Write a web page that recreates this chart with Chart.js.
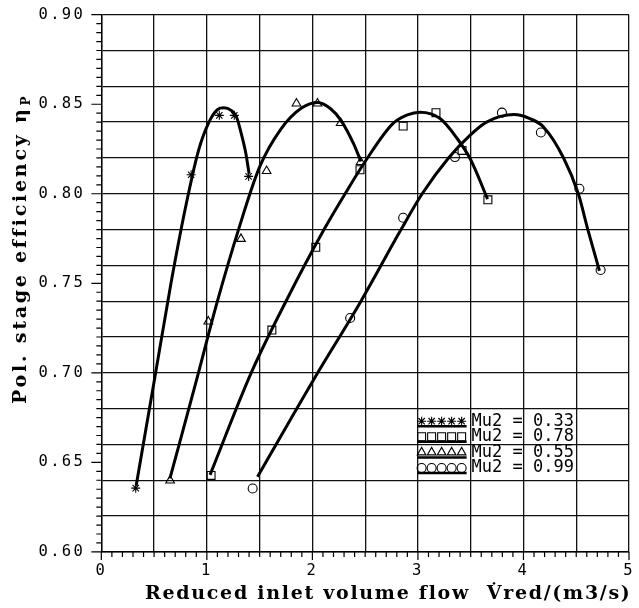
<!DOCTYPE html>
<html lang="en">
<head>
<meta charset="UTF-8" />
<title>Polytropic stage efficiency</title>
<script src="https://cdn.jsdelivr.net/npm/chart.js"></script>
<style>
  html, body { margin: 0; padding: 0; background: #fff; }
  #wrap { width: 639px; height: 608px; }
</style>
</head>
<body>
<div id="wrap"><canvas id="chart"></canvas></div>
<script>
// measured points (x = reduced inlet volume flow, y = efficiency)
const starX = [0.326, 0.851, 1.118, 1.260, 1.396];
const starY = [0.6356, 0.8106, 0.8438, 0.8438, 0.8097];
const sqX = [1.040, 1.616, 2.032, 2.451, 2.860, 3.171, 3.418, 3.663];
const sqY = [0.6427, 0.7239, 0.7701, 0.8134, 0.8378, 0.8453, 0.8242, 0.7966];
const triX = [0.652, 1.014, 1.323, 1.566, 1.849, 2.048, 2.268, 2.457];
const triY = [0.6399, 0.7287, 0.7748, 0.8127, 0.8504, 0.8504, 0.8395, 0.8177];
const circX = [1.434, 2.358, 2.860, 3.351, 3.796, 4.165, 4.530, 4.731];
const circY = [0.6354, 0.7306, 0.7866, 0.8205, 0.8453, 0.8342, 0.8028, 0.7574];

// fitted curves
const starFitX = [0.33, 0.50, 0.66, 0.80, 0.92, 1.02, 1.10, 1.16, 1.23, 1.28, 1.32, 1.37, 1.40];
const starFitY = [0.637, 0.695, 0.75, 0.793, 0.824, 0.840, 0.847, 0.848, 0.8466, 0.843, 0.835, 0.8224, 0.8112];
const sqFitX = [1.03, 1.42, 1.75, 2.11, 2.32, 2.50, 2.76, 2.90, 3.02, 3.21, 3.37, 3.50, 3.66];
const sqFitY = [0.643, 0.70, 0.74, 0.78, 0.801, 0.818, 0.839, 0.844, 0.8455, 0.842, 0.831, 0.819, 0.797];
const triFitX = [0.65, 0.90, 1.10, 1.30, 1.50, 1.70, 1.90, 2.05, 2.17, 2.27, 2.39, 2.46];
const triFitY = [0.641, 0.6955, 0.74, 0.78, 0.815, 0.836, 0.848, 0.851, 0.8476, 0.841, 0.828, 0.818];
const circFitX = [1.48, 2.02, 2.46, 2.84, 3.04, 3.29, 3.50, 3.65, 3.91, 4.06, 4.19, 4.38, 4.52, 4.61, 4.72];
const circFitY = [0.642, 0.697, 0.74, 0.78, 0.80, 0.82, 0.833, 0.84, 0.8442, 0.842, 0.8373, 0.82, 0.80, 0.78, 0.757];

const legendLabels = ['Mu2 = 0.33', 'Mu2 = 0.78', 'Mu2 = 0.55', 'Mu2 = 0.99'];
const legendStyles = ['star', 'rect', 'triangle', 'circle'];

const xTitle = 'Reduced inlet volume flow  V\u0307red/(m3/s)';
const yTitle = 'Pol. stage efficiency \u03b7';
const ySub = 'P';

const pts = (xs, ys) => xs.map((v, i) => ({ x: v, y: ys[i] }));
const isMult = (v, step) => Math.abs(v / step - Math.round(v / step)) < 1e-6;

const markerRadius = { star: 4.5, rect: 5.6, triangle: 5, circle: 4.5 };

function markers(xs, ys, style) {
  return {
    data: pts(xs, ys),
    showLine: false,
    pointStyle: style,
    pointRadius: markerRadius[style],
    pointBorderColor: '#000',
    pointBackgroundColor: 'rgba(0,0,0,0)',
    pointBorderWidth: 1.1
  };
}
function curve(xs, ys) {
  return {
    data: pts(xs, ys),
    showLine: true,
    borderColor: '#000',
    borderWidth: 3,
    cubicInterpolationMode: 'monotone',
    pointRadius: 0
  };
}

// spread a string so it covers a given width
function spreadText(ctx, text, x0, y0, width) {
  ctx.letterSpacing = '0px';
  const w = ctx.measureText(text).width;
  const n = text.length;
  ctx.letterSpacing = ((width - w) / (n - 1)) + 'px';
  ctx.textAlign = 'left';
  ctx.fillText(text, x0, y0);
  const end = x0 + ctx.measureText(text).width;
  ctx.letterSpacing = '0px';
  return end;
}

const plotDecor = {
  id: 'plotDecor',
  beforeDraw(chart) {
    chart.ctx.letterSpacing = '2.4px';
  },
  afterDraw(chart) {
    const { ctx, chartArea: a, scales: { x, y } } = chart;
    ctx.save();
    ctx.letterSpacing = '0px';
    ctx.strokeStyle = '#000';
    ctx.lineWidth = 1.2;

    // tick marks
    ctx.beginPath();
    y.ticks.forEach(t => {
      const py = y.getPixelForValue(t.value);
      const len = isMult(t.value, 0.05) ? 10 : 5;
      ctx.moveTo(a.left - len, py);
      ctx.lineTo(a.left, py);
    });
    x.ticks.forEach(t => {
      const px = x.getPixelForValue(t.value);
      const len = isMult(t.value, 1) ? 8 : 5;
      ctx.moveTo(px, a.bottom);
      ctx.lineTo(px, a.bottom + len);
    });
    ctx.stroke();

    // legend inside the plot
    const lx = x.getPixelForValue(3.035);
    const ly = y.getPixelForValue(0.673);
    legendLabels.forEach((lab, i) => {
      const cy = ly + i * 15.6;
      ctx.fillStyle = 'rgba(0,0,0,0)';
      ctx.strokeStyle = '#000';
      ctx.lineWidth = 1.1;
      for (let k = 0; k < 5; k++) {
        Chart.helpers.drawPoint(ctx, {
          pointStyle: legendStyles[i],
          radius: markerRadius[legendStyles[i]],
          borderWidth: 1.1,
          rotation: 0
        }, lx + k * 10, cy);
      }
      ctx.beginPath();
      ctx.lineWidth = 2.5;
      ctx.moveTo(lx - 4, cy + 5);
      ctx.lineTo(lx + 45, cy + 5);
      ctx.stroke();
      ctx.fillStyle = '#000';
      ctx.font = '17px "DejaVu Sans Mono"';
      ctx.textAlign = 'left';
      ctx.textBaseline = 'middle';
      ctx.fillText(lab, lx + 50, cy);
    });

    // axis titles
    ctx.fillStyle = '#000';
    ctx.textBaseline = 'alphabetic';
    ctx.font = 'bold 19px "DejaVu Serif"';
    spreadText(ctx, xTitle, 145, 599, 485);

    ctx.translate(26, 250);
    ctx.rotate(-Math.PI / 2);
    ctx.font = 'bold 19px "DejaVu Serif"';
    const end = spreadText(ctx, yTitle, -154, 0, 294);
    ctx.font = 'bold 12px "DejaVu Serif"';
    ctx.fillText(ySub, end + 1, 4);
    ctx.restore();
  }
};

new Chart(document.getElementById('chart'), {
  type: 'scatter',
  data: {
    datasets: [
      markers(starX, starY, 'star'),
      markers(sqX, sqY, 'rect'),
      markers(triX, triY, 'triangle'),
      markers(circX, circY, 'circle'),
      curve(starFitX, starFitY),
      curve(sqFitX, sqFitY),
      curve(triFitX, triFitY),
      curve(circFitX, circFitY)
    ]
  },
  options: {
    responsive: true,
    maintainAspectRatio: false,
    animation: false,
    layout: { padding: { left: 32, right: 10, top: 14.7, bottom: 17.5 } },
    plugins: { legend: { display: false }, tooltip: { enabled: false } },
    scales: {
      x: {
        type: 'linear',
        min: 0,
        max: 5,
        border: { color: '#000', width: 1.4 },
        grid: {
          drawTicks: false,
          lineWidth: 1.3,
          color: ctx => isMult(ctx.tick.value, 0.5) ? '#111' : 'rgba(0,0,0,0)'
        },
        afterFit: s => { s.paddingLeft = 0; s.paddingRight = 5; },
        ticks: {
          stepSize: 0.1,
          autoSkip: false,
          maxRotation: 0,
          padding: 10,
          color: '#000',
          font: { family: 'DejaVu Sans Mono', size: 15.5 },
          callback: v => isMult(v, 1) ? String(Math.round(v)) : ''
        }
      },
      y: {
        min: 0.6,
        max: 0.9,
        border: { color: '#000', width: 1.4 },
        grid: {
          drawTicks: false,
          lineWidth: 1.3,
          color: ctx => isMult(ctx.tick.value, 0.02) ? '#111' : 'rgba(0,0,0,0)'
        },
        afterFit: s => { s.paddingTop = 9; s.paddingBottom = 9; },
        ticks: {
          stepSize: 0.005,
          autoSkip: false,
          padding: 16,
          color: '#000',
          font: { family: 'DejaVu Sans Mono', size: 15.5 },
          callback: v => isMult(v, 0.05) ? v.toFixed(2) : ''
        }
      }
    }
  },
  plugins: [plotDecor]
});
</script>
</body>
</html>
